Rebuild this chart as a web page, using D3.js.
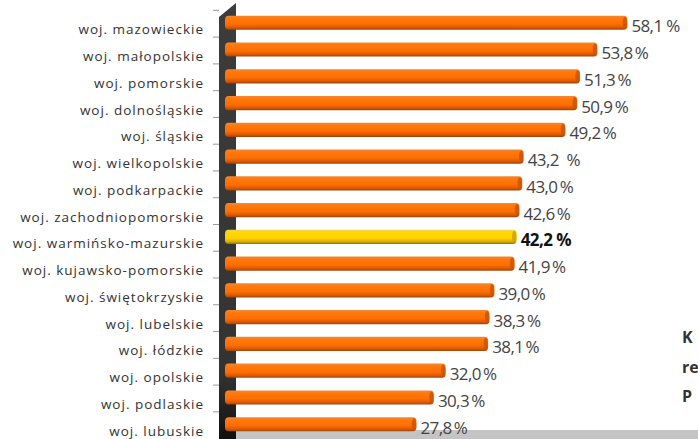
<!DOCTYPE html>
<html><head><meta charset="utf-8">
<script src="https://cdn.jsdelivr.net/npm/d3@7"></script>
<style>
html,body{margin:0;padding:0;background:#fff;overflow:hidden;}
svg{display:block;}
</style></head>
<body>
<script>
const categories = ["woj. mazowieckie","woj. małopolskie","woj. pomorskie","woj. dolnośląskie","woj. śląskie","woj. wielkopolskie","woj. podkarpackie","woj. zachodniopomorskie","woj. warmińsko-mazurskie","woj. kujawsko-pomorskie","woj. świętokrzyskie","woj. lubelskie","woj. łódzkie","woj. opolskie","woj. podlaskie","woj. lubuskie"];
const values = [58.1,53.8,51.3,50.9,49.2,43.2,43.0,42.6,42.2,41.9,39.0,38.3,38.1,32.0,30.3,27.8];
const valueLabels = ["58,1 %","53,8\u2009%","51,3\u2009%","50,9\u2009%","49,2\u2009%","43,2  %","43,0\u2009%","42,6\u2009%","42,2 %","41,9\u2009%","39,0\u2009%","38,3\u2009%","38,1\u2009%","32,0\u2009%","30,3\u2009%","27,8\u2009%"];
const highlight = "woj. warmińsko-mazurskie";
const sideText = ["K", "re", "P"];

const W = 698, H = 439;
const svg = d3.select("body").append("svg").attr("width", W).attr("height", H);
const defs = svg.append("defs");

function grad(id, stops){
  const g = defs.append("linearGradient").attr("id", id).attr("x1",0).attr("y1",0).attr("x2",0).attr("y2",1);
  stops.forEach(s => g.append("stop").attr("offset", s[0]).attr("stop-color", s[1]));
}
grad("gOrange", [[0,"#f08a3a"],[0.15,"#ff7a10"],[0.6,"#ff6e00"],[0.85,"#d85800"],[1,"#9a4410"]]);
grad("gYellow", [[0,"#f0d060"],[0.15,"#ffd800"],[0.6,"#ffd000"],[0.85,"#d8a800"],[1,"#8a7010"]]);
grad("gWall", [[0,"#3c3c3c"],[0.85,"#333"],[1,"#111"]]);

const x = d3.scaleLinear().domain([0, 60]).range([223, 223 + 60*6.96]);
const y = d3.scaleBand().domain(categories).range([9.5, 437.5]).paddingInner(0.47).paddingOuter(0.23);

// floor
svg.append("path").attr("d", `M230,430 L${W},430 L${W},${H} L226,${H} Z`).attr("fill", "#c4c4c4");

// wall
svg.append("path").attr("d", `M219,17 L236,3 L236,430 L226,${H} L219,${H} Z`).attr("fill", "url(#gWall)");
svg.append("path").attr("d", "M222,432 L236,428 L236,439 L222,439 Z").attr("fill", "#111");

// axis ticks
const tickYs = categories.map(c => y(c) - (y.step()-y.bandwidth())/2 + 1);
svg.append("g").selectAll("line").data(tickYs).join("line")
  .attr("x1", 213).attr("x2", 219).attr("y1", d => d).attr("y2", d => d)
  .attr("stroke", "#999").attr("stroke-width", 1);

// bars
const bars = svg.append("g");
bars.selectAll("rect.bar").data(categories).join("rect").attr("class","bar")
  .attr("x", 225).attr("y", c => y(c)).attr("height", y.bandwidth())
  .attr("width", (c,i) => x(values[i]) - 225)
  .attr("rx", 3.5).attr("ry", 4)
  .attr("fill", c => c === highlight ? "url(#gYellow)" : "url(#gOrange)");
bars.selectAll("ellipse").data(categories).join("ellipse")
  .attr("cx", (c,i) => x(values[i]) - 2.5).attr("cy", c => y(c) + y.bandwidth()/2)
  .attr("rx", 2.2).attr("ry", y.bandwidth()/2 - 1)
  .attr("fill", c => c === highlight ? "#c8a000" : "#c85200").attr("opacity", 0.8);

// category labels
svg.append("g").selectAll("text").data(categories).join("text")
  .attr("x", 204).attr("y", c => y(c) + y.bandwidth()/2 + 11.5)
  .attr("text-anchor", "end")
  .attr("font-family", "'Open Sans', sans-serif").attr("font-size", 13.5)
  .attr("fill", "#333").attr("letter-spacing", "1.0")
  .text(c => c);

// value labels
svg.append("g").selectAll("text").data(categories).join("text")
  .attr("x", (c,i) => x(values[i]) + 4).attr("y", c => y(c) + y.bandwidth()/2 + 9.5)
  .attr("font-family", "'Open Sans', sans-serif").attr("font-size", 17)
  .attr("font-weight", c => c === highlight ? "bold" : "normal")
  .attr("fill", c => c === highlight ? "#111" : "#444")
  .attr("letter-spacing", "-0.6")
  .style("white-space", "pre")
  .text((c,i) => valueLabels[i]);

// side text (partly visible at the right edge)
svg.append("g").selectAll("text").data(sideText).join("text")
  .attr("x", 682).attr("y", (d,i) => [343, 373, 402][i])
  .attr("font-family", "'Open Sans', sans-serif").attr("font-size", 16).attr("font-weight", "bold")
  .attr("fill", "#333").text(d => d);
</script>
</body></html>
